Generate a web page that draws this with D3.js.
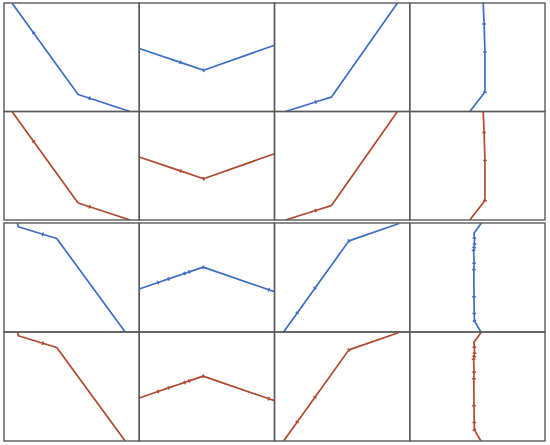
<!DOCTYPE html>
<meta charset="UTF-8">
<style>
body { margin: 0; background: #fff; }
.frame { fill: none; stroke: #5a5a5a; stroke-width: 1.4px; }
.curve { fill: none; stroke-width: 1.7px; stroke-linejoin: round; }
.tick { stroke-width: 1.5px; }
</style>
<body>
<script src="https://d3js.org/d3.v7.min.js"></script>
<script>
// curves, [x, y] in panel units (0..100), with the indexes of the ticked points
var curveA = [[5.9,100],[21.9,72.4],[54.8,15.7],[63.3,12.2],[93.3,0]];
var ticksA = [1,3];
var curveB = [[0,58.1],[30.4,45.3],[47.6,38.0],[100,61.1]];
var ticksB = [1,2];
var curveC = [[8.1,0],[30.4,8.7],[42.0,13.2],[90.9,100]];
var ticksC = [1];
var curveD = [[54.3,100],[55.0,80.6],[55.6,54.9],[55.6,17.9],[44.4,0]];
var ticksD = [0,1,2,3];
var curveE = [[9.9,100],[10.6,96.6],[28.7,89.7],[39.0,85.8],[89.6,0]];
var ticksE = [2];
var curveF = [[0,39.5],[13.9,45.4],[21.7,48.7],[33.5,53.7],[37.0,55.2],[47.2,59.5],[95.8,38.8],[100,37.0]];
var ticksF = [1,2,3,4,5,6];
var curveG = [[6.7,0],[16.8,17.5],[29.9,40.2],[55.0,83.6],[92.1,99.5]];
var ticksG = [1,2,3];
var curveH = [[53.0,100],[47.5,90.5],[47.8,86.1],[47.9,80.6],[47.6,77.5],[47.2,75.0],[47.6,63.2],[47.4,57.1],[47.5,32.4],[47.7,16.9],[47.8,10.2],[52.6,0]];
var ticksH = [2,3,4,5,6,7,8,9,10];

var blockCurves = [[curveA, curveB, curveC, curveD], [curveE, curveF, curveG, curveH]];
var blockTicks = [[ticksA, ticksB, ticksC, ticksD], [ticksE, ticksF, ticksG, ticksH]];
var rowColors = ["#3d6cc6", "#b0472e"];

var width = 550, height = 445;
var blocks = [[3, 220], [223, 441]];
var colX = d3.scaleLinear().domain([0, 4]).range([4, 545]);

var svg = d3.select("body").append("svg")
    .attr("width", width)
    .attr("height", height);

var n = 0;
blocks.forEach(function(b, bi) {
  var rowY = d3.scaleLinear().domain([0, 2]).range(b);
  for (var r = 0; r < 2; r++) {
    for (var c = 0; c < 4; c++) {
      var left = colX(c), right = colX(c + 1);
      var top = rowY(r), bottom = rowY(r + 1);
      var x = d3.scaleLinear().domain([0, 100]).range([left, right]);
      var y = d3.scaleLinear().domain([0, 100]).range([bottom, top]);
      var data = blockCurves[bi][c];
      var ticks = blockTicks[bi][c];
      var color = rowColors[r];
      var id = "clip" + (n++);

      svg.append("clipPath").attr("id", id)
        .append("rect")
          .attr("x", left).attr("y", top)
          .attr("width", right - left).attr("height", bottom - top);

      var g = svg.append("g").attr("clip-path", "url(#" + id + ")");

      var line = d3.line()
          .x(function(d) { return x(d[0]); })
          .y(function(d) { return y(d[1]); });

      g.append("path")
          .datum(data)
          .attr("class", "curve")
          .attr("stroke", color)
          .attr("d", line);

      // small ticks across the curve
      g.selectAll("line.tick")
        .data(ticks)
        .enter().append("line")
          .attr("class", "tick")
          .attr("stroke", color)
          .each(function(i) {
            var p = data[i];
            var q = data[Math.min(i + 1, data.length - 1)];
            var o = data[Math.max(i - 1, 0)];
            var dx = x(q[0]) - x(o[0]), dy = y(q[1]) - y(o[1]);
            var len = Math.sqrt(dx * dx + dy * dy) || 1;
            var nx = -dy / len * 1.8, ny = dx / len * 1.8;
            d3.select(this)
              .attr("x1", x(p[0]) - nx).attr("y1", y(p[1]) - ny)
              .attr("x2", x(p[0]) + nx).attr("y2", y(p[1]) + ny);
          });

      svg.append("rect")
          .attr("class", "frame")
          .attr("x", left).attr("y", top)
          .attr("width", right - left).attr("height", bottom - top);
    }
  }
});
</script>
</body>
